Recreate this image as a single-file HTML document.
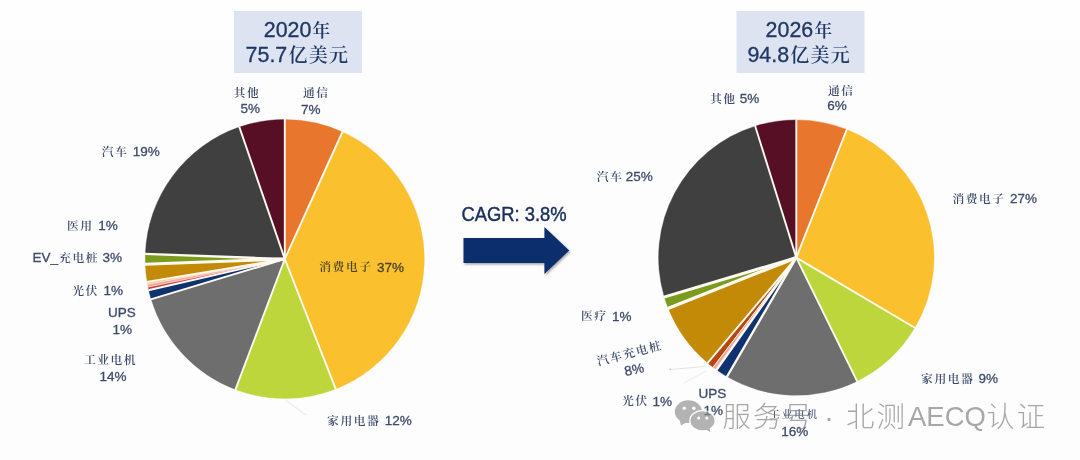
<!DOCTYPE html>
<html lang="zh"><head><meta charset="utf-8"><title>chart</title>
<style>
html,body{margin:0;padding:0;background:#fff;}
body{width:1080px;height:460px;overflow:hidden;font-family:"Liberation Sans","Noto Sans CJK SC",sans-serif;}
svg{display:block;filter:blur(0.45px)}
</style></head><body>
<svg width="1080" height="460" viewBox="0 0 1080 460">
<defs><filter id="sh" x="-10%" y="-20%" width="130%" height="150%"><feDropShadow dx="1.2" dy="1.5" stdDeviation="1.2" flood-color="#000" flood-opacity="0.35"/></filter></defs>
<rect x="-5" y="-5" width="1090" height="470" fill="#fefefe"/>
<rect x="-5" y="40" width="1090" height="425" fill="#fdfdfd"/>
<g id="leaders" fill="none" stroke-linecap="round">
<path d="M670 369.500L704 366.500" stroke="#e3e3e3" stroke-width="1.100"/>
<path d="M684 383L706 371" stroke="#efefef" stroke-width="1.100"/>
<path d="M286 400.500L306 415" stroke="#ececec" stroke-width="1.200"/>
<circle cx="670.300" cy="369.400" r="0.900" fill="#c9c9c9" stroke="none"/>
</g>
<g id="pie1">
<path d="M284.80 259.00L284.80 119.50A139.5 139.5 0 0 1 342.43 131.96Z" fill="#e8762c" stroke="#e8762c" stroke-width="0.4" stroke-linejoin="round"/>
<path d="M284.80 259.00L342.43 131.96A139.5 139.5 0 0 1 335.70 388.88Z" fill="#fac02e" stroke="#fac02e" stroke-width="0.4" stroke-linejoin="round"/>
<path d="M284.80 259.00L335.70 388.88A139.5 139.5 0 0 1 235.49 389.49Z" fill="#bdd63b" stroke="#bdd63b" stroke-width="0.4" stroke-linejoin="round"/>
<path d="M284.80 259.00L235.49 389.49A139.5 139.5 0 0 1 151.25 299.32Z" fill="#6e6e6e" stroke="#6e6e6e" stroke-width="0.4" stroke-linejoin="round"/>
<path d="M284.80 259.00L151.25 299.32A139.5 139.5 0 0 1 148.82 290.14Z" fill="#0e3370" stroke="#0e3370" stroke-width="0.4" stroke-linejoin="round"/>
<path d="M284.80 259.00L148.82 290.14A139.5 139.5 0 0 1 148.15 287.05Z" fill="#c8403a" stroke="#c8403a" stroke-width="0.4" stroke-linejoin="round"/>
<path d="M284.80 259.00L148.15 287.05A139.5 139.5 0 0 1 147.59 284.18Z" fill="#f0a8a0" stroke="#f0a8a0" stroke-width="0.4" stroke-linejoin="round"/>
<path d="M284.80 259.00L147.59 284.18A139.5 139.5 0 0 1 147.17 281.78Z" fill="#f6c89a" stroke="#f6c89a" stroke-width="0.4" stroke-linejoin="round"/>
<path d="M284.80 259.00L147.17 281.78A139.5 139.5 0 0 1 145.40 264.23Z" fill="#c38a08" stroke="#c38a08" stroke-width="0.4" stroke-linejoin="round"/>
<path d="M284.80 259.00L145.40 264.23A139.5 139.5 0 0 1 145.39 253.89Z" fill="#7b9a20" stroke="#7b9a20" stroke-width="0.4" stroke-linejoin="round"/>
<path d="M284.80 259.00L145.39 253.89A139.5 139.5 0 0 1 239.38 127.10Z" fill="#404040" stroke="#404040" stroke-width="0.4" stroke-linejoin="round"/>
<path d="M284.80 259.00L239.38 127.10A139.5 139.5 0 0 1 284.80 119.50Z" fill="#570f26" stroke="#570f26" stroke-width="0.4" stroke-linejoin="round"/>
<line x1="284.80" y1="259.00" x2="284.80" y2="119.00" stroke="#fffaf0" stroke-width="1.9" stroke-linecap="butt"/>
<line x1="284.80" y1="259.00" x2="342.63" y2="131.50" stroke="#fffaf0" stroke-width="1.9" stroke-linecap="butt"/>
<line x1="284.80" y1="259.00" x2="335.88" y2="389.35" stroke="#fffaf0" stroke-width="1.9" stroke-linecap="butt"/>
<line x1="284.80" y1="259.00" x2="235.31" y2="389.96" stroke="#fffaf0" stroke-width="1.9" stroke-linecap="butt"/>
<line x1="284.80" y1="259.00" x2="150.78" y2="299.46" stroke="#fffaf0" stroke-width="1.9" stroke-linecap="butt"/>
<line x1="284.80" y1="259.00" x2="148.33" y2="290.26" stroke="#fffaf0" stroke-width="1.9" stroke-linecap="butt"/>
<line x1="284.80" y1="259.00" x2="147.66" y2="287.15" stroke="#fffaf0" stroke-width="0.5" stroke-linecap="butt"/>
<line x1="284.80" y1="259.00" x2="147.10" y2="284.27" stroke="#fffaf0" stroke-width="0.5" stroke-linecap="butt"/>
<line x1="284.80" y1="259.00" x2="146.68" y2="281.87" stroke="#fffaf0" stroke-width="1.9" stroke-linecap="butt"/>
<line x1="284.80" y1="259.00" x2="144.90" y2="264.25" stroke="#fffaf0" stroke-width="3.0" stroke-linecap="butt"/>
<line x1="284.80" y1="259.00" x2="144.89" y2="253.87" stroke="#fffaf0" stroke-width="2.3" stroke-linecap="butt"/>
<line x1="284.80" y1="259.00" x2="239.22" y2="126.63" stroke="#fffaf0" stroke-width="1.9" stroke-linecap="butt"/>
</g>
<g id="pie2">
<path d="M796.30 257.60L796.30 119.90A137.7 137.7 0 0 1 846.77 129.48Z" fill="#e8762c" stroke="#e8762c" stroke-width="0.4" stroke-linejoin="round"/>
<path d="M796.30 257.60L846.77 129.48A137.7 137.7 0 0 1 914.76 327.80Z" fill="#fac02e" stroke="#fac02e" stroke-width="0.4" stroke-linejoin="round"/>
<path d="M796.30 257.60L914.76 327.80A137.7 137.7 0 0 1 857.10 381.15Z" fill="#bdd63b" stroke="#bdd63b" stroke-width="0.4" stroke-linejoin="round"/>
<path d="M796.30 257.60L857.10 381.15A137.7 137.7 0 0 1 727.03 376.61Z" fill="#6e6e6e" stroke="#6e6e6e" stroke-width="0.4" stroke-linejoin="round"/>
<path d="M796.30 257.60L727.03 376.61A137.7 137.7 0 0 1 716.53 369.84Z" fill="#0e3370" stroke="#0e3370" stroke-width="0.4" stroke-linejoin="round"/>
<path d="M796.30 257.60L716.53 369.84A137.7 137.7 0 0 1 713.05 367.28Z" fill="#f0a8a0" stroke="#f0a8a0" stroke-width="0.4" stroke-linejoin="round"/>
<path d="M796.30 257.60L713.05 367.28A137.7 137.7 0 0 1 707.60 362.93Z" fill="#b4480f" stroke="#b4480f" stroke-width="0.4" stroke-linejoin="round"/>
<path d="M796.30 257.60L707.60 362.93A137.7 137.7 0 0 1 668.18 308.07Z" fill="#c38a08" stroke="#c38a08" stroke-width="0.4" stroke-linejoin="round"/>
<path d="M796.30 257.60L668.18 308.07A137.7 137.7 0 0 1 664.20 296.48Z" fill="#7b9a20" stroke="#7b9a20" stroke-width="0.4" stroke-linejoin="round"/>
<path d="M796.30 257.60L664.20 296.48A137.7 137.7 0 0 1 755.24 126.17Z" fill="#404040" stroke="#404040" stroke-width="0.4" stroke-linejoin="round"/>
<path d="M796.30 257.60L755.24 126.17A137.7 137.7 0 0 1 796.30 119.90Z" fill="#570f26" stroke="#570f26" stroke-width="0.4" stroke-linejoin="round"/>
<line x1="796.30" y1="257.60" x2="796.30" y2="119.40" stroke="#fffaf0" stroke-width="1.9" stroke-linecap="butt"/>
<line x1="796.30" y1="257.60" x2="846.95" y2="129.02" stroke="#fffaf0" stroke-width="1.9" stroke-linecap="butt"/>
<line x1="796.30" y1="257.60" x2="915.19" y2="328.05" stroke="#fffaf0" stroke-width="1.9" stroke-linecap="butt"/>
<line x1="796.30" y1="257.60" x2="857.32" y2="381.60" stroke="#fffaf0" stroke-width="1.9" stroke-linecap="butt"/>
<line x1="796.30" y1="257.60" x2="726.78" y2="377.04" stroke="#fffaf0" stroke-width="2.3" stroke-linecap="butt"/>
<line x1="796.30" y1="257.60" x2="716.24" y2="370.25" stroke="#fffaf0" stroke-width="2.4" stroke-linecap="butt"/>
<line x1="796.30" y1="257.60" x2="712.74" y2="367.68" stroke="#fffaf0" stroke-width="1.0" stroke-linecap="butt"/>
<line x1="796.30" y1="257.60" x2="707.28" y2="363.31" stroke="#fffaf0" stroke-width="1.9" stroke-linecap="butt"/>
<line x1="796.30" y1="257.60" x2="667.80" y2="308.47" stroke="#fffaf0" stroke-width="3.3" stroke-linecap="butt"/>
<line x1="796.30" y1="257.60" x2="663.88" y2="297.15" stroke="#fffaf0" stroke-width="3.0" stroke-linecap="butt"/>
<line x1="796.30" y1="257.60" x2="755.09" y2="125.69" stroke="#fffaf0" stroke-width="1.9" stroke-linecap="butt"/>
</g>
<g filter="url(#sh)"><path d="M463.5 238H544.4V227L569.2 250.5L544.4 274V263H463.5Z" fill="#0c2f6c"/></g>
<g id="labels" transform="translate(0,-0.5)">
<rect x="234" y="11.5" width="128" height="62" fill="#dde3f1"/>
<rect x="736.5" y="11.5" width="128" height="62" fill="#dde3f1"/>
<text x="263.8" y="37.5" font-size="21.4" fill="#1f3763" stroke="#1f3763" stroke-width="0.3" font-family="Liberation Sans, sans-serif" >2020</text>
<text x="312.3" y="37.3" font-size="18" fill="#1f3763" font-weight="600" letter-spacing="0" font-family="Liberation Serif, Noto Serif CJK SC, serif" >年</text>
<text x="245.6" y="62.7" font-size="21.4" fill="#1f3763" stroke="#1f3763" stroke-width="0.3" font-family="Liberation Sans, sans-serif" >75.7</text>
<text x="288.5" y="62.6" font-size="19" fill="#1f3763" font-weight="600" letter-spacing="1.2" font-family="Liberation Serif, Noto Serif CJK SC, serif" >亿美元</text>
<text x="765.6" y="37.5" font-size="21.4" fill="#1f3763" stroke="#1f3763" stroke-width="0.3" font-family="Liberation Sans, sans-serif" >2026</text>
<text x="814.2" y="37.3" font-size="18" fill="#1f3763" font-weight="600" letter-spacing="0" font-family="Liberation Serif, Noto Serif CJK SC, serif" >年</text>
<text x="747.4" y="62.7" font-size="21.4" fill="#1f3763" stroke="#1f3763" stroke-width="0.3" font-family="Liberation Sans, sans-serif" >94.8</text>
<text x="790.3" y="62.6" font-size="19" fill="#1f3763" font-weight="600" letter-spacing="1.2" font-family="Liberation Serif, Noto Serif CJK SC, serif" >亿美元</text>
<text x="233.6" y="97.8" font-size="11.8" fill="#3d4a6a" font-weight="600" letter-spacing="1.5" font-family="Liberation Serif, Noto Serif CJK SC, serif" >其他</text>
<text x="240.6" y="113.9" font-size="13.5" fill="#3d4a6a" stroke="#3d4a6a" stroke-width="0.3" font-family="Liberation Sans, sans-serif" >5%</text>
<text x="303" y="97.8" font-size="11.8" fill="#3d4a6a" font-weight="600" letter-spacing="1.5" font-family="Liberation Serif, Noto Serif CJK SC, serif" >通信</text>
<text x="301" y="114" font-size="13.5" fill="#3d4a6a" stroke="#3d4a6a" stroke-width="0.3" font-family="Liberation Sans, sans-serif" >7%</text>
<text x="101.7" y="156" font-size="11.8" fill="#3d4a6a" font-weight="600" letter-spacing="1.5" font-family="Liberation Serif, Noto Serif CJK SC, serif" >汽车</text>
<text x="132.8" y="156.4" font-size="13.5" fill="#3d4a6a" stroke="#3d4a6a" stroke-width="0.3" font-family="Liberation Sans, sans-serif" >19%</text>
<text x="67" y="230.5" font-size="11.8" fill="#3d4a6a" font-weight="600" letter-spacing="1.5" font-family="Liberation Serif, Noto Serif CJK SC, serif" >医用</text>
<text x="98.3" y="230.9" font-size="13.5" fill="#3d4a6a" stroke="#3d4a6a" stroke-width="0.3" font-family="Liberation Sans, sans-serif" >1%</text>
<text x="32.4" y="262.8" font-size="13.5" fill="#3d4a6a" stroke="#3d4a6a" stroke-width="0.3" font-family="Liberation Sans, sans-serif" >EV_</text>
<text x="59.1" y="262.4" font-size="11.8" fill="#3d4a6a" font-weight="600" letter-spacing="1.5" font-family="Liberation Serif, Noto Serif CJK SC, serif" >充电桩</text>
<text x="102.5" y="262.8" font-size="13.5" fill="#3d4a6a" stroke="#3d4a6a" stroke-width="0.3" font-family="Liberation Sans, sans-serif" >3%</text>
<text x="72.2" y="295.5" font-size="11.8" fill="#3d4a6a" font-weight="600" letter-spacing="1.5" font-family="Liberation Serif, Noto Serif CJK SC, serif" >光伏</text>
<text x="103.4" y="295.9" font-size="13.5" fill="#3d4a6a" stroke="#3d4a6a" stroke-width="0.3" font-family="Liberation Sans, sans-serif" >1%</text>
<text x="107.9" y="317.2" font-size="13.5" fill="#3d4a6a" stroke="#3d4a6a" stroke-width="0.3" font-family="Liberation Sans, sans-serif" >UPS</text>
<text x="112.6" y="334.4" font-size="13.5" fill="#3d4a6a" stroke="#3d4a6a" stroke-width="0.3" font-family="Liberation Sans, sans-serif" >1%</text>
<text x="83.9" y="364.3" font-size="11.8" fill="#3d4a6a" font-weight="600" letter-spacing="1.5" font-family="Liberation Serif, Noto Serif CJK SC, serif" >工业电机</text>
<text x="99.5" y="381.4" font-size="13.5" fill="#3d4a6a" stroke="#3d4a6a" stroke-width="0.3" font-family="Liberation Sans, sans-serif" >14%</text>
<text x="327.1" y="425.3" font-size="11.8" fill="#3d4a6a" font-weight="600" letter-spacing="1.5" font-family="Liberation Serif, Noto Serif CJK SC, serif" >家用电器</text>
<text x="384.8" y="425.7" font-size="13.5" fill="#3d4a6a" stroke="#3d4a6a" stroke-width="0.3" font-family="Liberation Sans, sans-serif" >12%</text>
<text x="319.3" y="271.6" font-size="11.8" fill="#4a4326" font-weight="600" letter-spacing="1.5" font-family="Liberation Serif, Noto Serif CJK SC, serif" >消费电子</text>
<text x="377" y="272" font-size="13.5" fill="#4a4326" stroke="#4a4326" stroke-width="0.3" font-family="Liberation Sans, sans-serif" >37%</text>
<text x="710" y="103.5" font-size="11.8" fill="#3d4a6a" font-weight="600" letter-spacing="1.5" font-family="Liberation Serif, Noto Serif CJK SC, serif" >其他</text>
<text x="739.7" y="103.9" font-size="13.5" fill="#3d4a6a" stroke="#3d4a6a" stroke-width="0.3" font-family="Liberation Sans, sans-serif" >5%</text>
<text x="828" y="95" font-size="11.8" fill="#3d4a6a" font-weight="600" letter-spacing="1.5" font-family="Liberation Serif, Noto Serif CJK SC, serif" >通信</text>
<text x="827.2" y="110.3" font-size="13.5" fill="#3d4a6a" stroke="#3d4a6a" stroke-width="0.3" font-family="Liberation Sans, sans-serif" >6%</text>
<text x="596.7" y="181.3" font-size="11.8" fill="#3d4a6a" font-weight="600" letter-spacing="1.5" font-family="Liberation Serif, Noto Serif CJK SC, serif" >汽车</text>
<text x="625.8" y="181.7" font-size="13.5" fill="#3d4a6a" stroke="#3d4a6a" stroke-width="0.3" font-family="Liberation Sans, sans-serif" >25%</text>
<text x="952.4" y="203.3" font-size="11.8" fill="#3d4a6a" font-weight="600" letter-spacing="1.5" font-family="Liberation Serif, Noto Serif CJK SC, serif" >消费电子</text>
<text x="1010" y="203.7" font-size="13.5" fill="#3d4a6a" stroke="#3d4a6a" stroke-width="0.3" font-family="Liberation Sans, sans-serif" >27%</text>
<text x="580.9" y="320.9" font-size="11.8" fill="#3d4a6a" font-weight="600" letter-spacing="1.5" font-family="Liberation Serif, Noto Serif CJK SC, serif" >医疗</text>
<text x="612.1" y="321.3" font-size="13.5" fill="#3d4a6a" stroke="#3d4a6a" stroke-width="0.3" font-family="Liberation Sans, sans-serif" >1%</text>
<text x="629.6" y="358" font-size="11.8" fill="#3d4a6a" font-weight="600" letter-spacing="1.6" font-family="Liberation Serif, Noto Serif CJK SC, serif" text-anchor="middle" transform="rotate(-14.7 629.6 353.5)">汽车充电桩</text>
<text x="634.1" y="374.6" font-size="13.5" fill="#3d4a6a" stroke="#3d4a6a" stroke-width="0.3" font-family="Liberation Sans, sans-serif" text-anchor="middle" transform="rotate(-12 634.1 369.8)">8%</text>
<text x="622" y="405.6" font-size="11.8" fill="#3d4a6a" font-weight="600" letter-spacing="1.5" font-family="Liberation Serif, Noto Serif CJK SC, serif" >光伏</text>
<text x="652.5" y="406" font-size="13.5" fill="#3d4a6a" stroke="#3d4a6a" stroke-width="0.3" font-family="Liberation Sans, sans-serif" >1%</text>
<text x="698.5" y="398.5" font-size="13.5" fill="#3d4a6a" stroke="#3d4a6a" stroke-width="0.3" font-family="Liberation Sans, sans-serif" >UPS</text>
<text x="703.5" y="415.2" font-size="13.5" fill="#3d4a6a" stroke="#3d4a6a" stroke-width="0.3" font-family="Liberation Sans, sans-serif" >1%</text>
<text x="769.3" y="418.8" font-size="10.5" fill="#3d4a6a" font-weight="500" letter-spacing="2.0" font-family="Liberation Serif, Noto Serif CJK SC, serif" >工业电机</text>
<text x="781.3" y="436.5" font-size="13.5" fill="#3d4a6a" stroke="#3d4a6a" stroke-width="0.3" font-family="Liberation Sans, sans-serif" >16%</text>
<text x="921.1" y="383.3" font-size="11.8" fill="#3d4a6a" font-weight="600" letter-spacing="1.5" font-family="Liberation Serif, Noto Serif CJK SC, serif" >家用电器</text>
<text x="978.5" y="383.7" font-size="13.5" fill="#3d4a6a" stroke="#3d4a6a" stroke-width="0.3" font-family="Liberation Sans, sans-serif" >9%</text>
<text x="461.4" y="221.8" font-size="20" fill="#1b2f5c" stroke="#1b2f5c" stroke-width="0.45" font-family="Liberation Sans, sans-serif" textLength="105.2" lengthAdjust="spacingAndGlyphs">CAGR: 3.8%</text>
</g>
<g opacity="0.66">
<g fill="#8e8e8e">
<ellipse cx="688.4" cy="411.7" rx="13.6" ry="11.4"/>
<path d="M679.5 419.500L681 425.400L687.500 421.800Z"/>
<ellipse cx="702.5" cy="420.700" rx="13.300" ry="10.800" fill="#fdfdfd"/>
<ellipse cx="702.5" cy="420.700" rx="12" ry="9.500"/>
<path d="M705 429L710.300 432L709.300 426.500Z"/>
</g>
<g fill="#fdfdfd"><circle cx="684.300" cy="408.300" r="1.800"/><circle cx="693.800" cy="408.300" r="1.800"/><circle cx="698.700" cy="418" r="1.500"/><circle cx="706.800" cy="418" r="1.500"/></g>
<text y="427" font-size="28.500" fill="#7c7c7c" font-weight="300" font-family="Liberation Sans, Noto Sans CJK SC, sans-serif"><tspan x="722.500" letter-spacing="2.100">服务号 · 北测</tspan><tspan x="908" dy="-1.300" font-size="27.500" letter-spacing="0">AECQ</tspan><tspan x="986.300" dy="1.300" letter-spacing="2">认证</tspan></text>
</g>
</svg>
</body></html>
